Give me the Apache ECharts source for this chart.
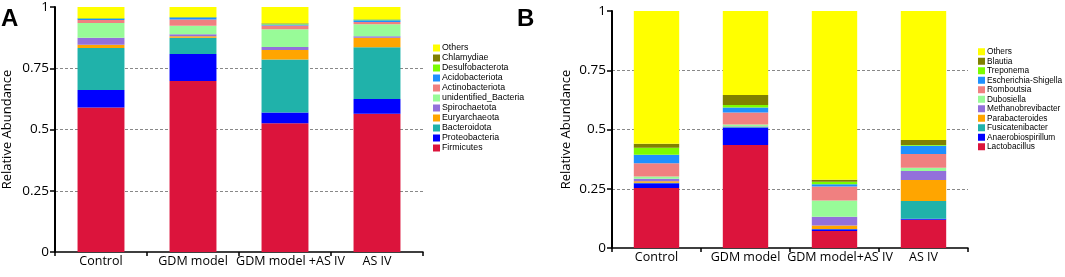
<!DOCTYPE html>
<html>
<head>
<meta charset="utf-8">
<script src="https://cdn.jsdelivr.net/npm/echarts@6/dist/echarts.min.js"></script>
<style>
  html, body { margin: 0; padding: 0; background: #fff; }
  #chart { width: 1065px; height: 277px; }
</style>
</head>
<body>
<div id="chart"></div>
<script>
// panel A: phylum level
const groupsA = ['Control', 'GDM model', 'GDM model +AS IV', 'AS IV']
const taxaA = ['Firmicutes', 'Proteobacteria', 'Bacteroidota', 'Euryarchaeota', 'Spirochaetota',
  'unidentified_Bacteria', 'Actinobacteriota', 'Acidobacteriota', 'Desulfobacterota', 'Chlamydiae', 'Others']
const firmicutes      = [0.590, 0.698, 0.526, 0.564]
const proteobacteria  = [0.071, 0.110, 0.043, 0.061]
const bacteroidota    = [0.172, 0.067, 0.217, 0.211]
const euryarchaeota   = [0.013, 0.006, 0.038, 0.039]
const spirochaetota   = [0.028, 0.008, 0.013, 0.006]
const unidentified    = [0.061, 0.034, 0.072, 0.049]
const actinobacteriota = [0.012, 0.026, 0.016, 0.009]
const acidobacteriota = [0.005, 0.008, 0.004, 0.007]
const desulfobacterota = [0.002, 0.001, 0.003, 0.003]
const chlamydiae      = [0.001, 0.001, 0.002, 0.001]
const othersA         = [0.045, 0.041, 0.066, 0.050]
const valuesA = [firmicutes, proteobacteria, bacteroidota, euryarchaeota, spirochaetota,
  unidentified, actinobacteriota, acidobacteriota, desulfobacterota, chlamydiae, othersA]

// panel B: genus level
const groupsB = ['Control', 'GDM model', 'GDM model+AS IV', 'AS IV']
const taxaB = ['Lactobacillus', 'Anaerobiospirillum', 'Fusicatenibacter', 'Parabacteroides', 'Methanobrevibacter',
  'Dubosiella', 'Romboutsia', 'Escherichia-Shigella', 'Treponema', 'Blautia', 'Others']
const lactobacillus   = [0.253, 0.435, 0.072, 0.119]
const anaerobio       = [0.020, 0.073, 0.007, 0.004]
const fusicatenibacter = [0.002, 0.003, 0.001, 0.075]
const parabacteroides = [0.007, 0.001, 0.015, 0.089]
const methanobrevi    = [0.010, 0.002, 0.037, 0.038]
const dubosiella      = [0.010, 0.007, 0.068, 0.014]
const romboutsia      = [0.056, 0.051, 0.059, 0.058]
const escherichia     = [0.035, 0.021, 0.010, 0.034]
const treponema       = [0.030, 0.010, 0.011, 0.004]
const blautia         = [0.017, 0.043, 0.008, 0.021]
const othersB         = [0.560, 0.354, 0.712, 0.544]
const valuesB = [lactobacillus, anaerobio, fusicatenibacter, parabacteroides, methanobrevi,
  dubosiella, romboutsia, escherichia, treponema, blautia, othersB]

const yTicks = [0, 0.25, 0.5, 0.75, 1]

// same palette for both panels, bottom -> top
const COLORS = ['#DC143C', '#0000FF', '#20B2AA', '#FFA500', '#9370DB',
  '#98FB98', '#F08080', '#1E90FF', '#7CFC00', '#808000', '#FFFF00']

const FONT = 'Open Sans'
const XFS = 12.5
const chart = echarts.init(document.getElementById('chart'), null, { renderer: 'canvas' })

function xAxis(idx, cats) {
  return {
    type: 'category', gridIndex: idx, data: cats,
    axisLine: { lineStyle: { color: '#000', width: 1.5 } },
    axisTick: { show: true, length: 4, lineStyle: { color: '#000', width: 1.5 } },
    axisLabel: {
      color: '#000', fontSize: XFS, fontFamily: FONT, margin: 3, interval: 0,
      // the long label sits a little right of its bar in the original
      formatter: v => v.includes('+') ? '{s|' + v + '}' : v,
      rich: { s: { color: '#000', fontSize: XFS, fontFamily: FONT, padding: [0, 0, 0, 11] } },
    },
  }
}

function yAxis(idx, gap) {
  return {
    type: 'value', gridIndex: idx, min: 0, max: 1, interval: 0.25,
    name: 'Relative Abundance', nameLocation: 'middle', nameGap: gap,
    nameTextStyle: { color: '#000', fontSize: 13, fontFamily: FONT },
    axisLine: { show: true, lineStyle: { color: '#000', width: 2 } },
    axisTick: { show: true, length: 5, lineStyle: { color: '#000', width: 1.5 } },
    axisLabel: { color: '#000', fontSize: 13.5, fontFamily: FONT, margin: 6,
      formatter: v => String(yTicks.find(t => Math.abs(t - v) < 1e-9) ?? v) },
    splitLine: { show: true, showMinLine: false, showMaxLine: false,
      lineStyle: { color: '#888', type: [3, 2], width: 1 } },
  }
}

function makeSeries(taxa, values, idx) {
  return taxa.map((name, i) => ({
    name, type: 'bar', stack: 'p' + idx,
    xAxisIndex: idx, yAxisIndex: idx,
    barWidth: '51%',
    itemStyle: { color: COLORS[i] },
    emphasis: { disabled: true },
    data: values[i],
  }))
}

function legend(taxa, left, top, lh, fs) {
  return {
    orient: 'vertical', left, top, padding: 0, itemGap: 0,
    itemWidth: 7, itemHeight: 7, icon: 'rect',
    selectedMode: false,
    data: [...taxa].reverse(),
    textStyle: { color: '#000', fontSize: fs, fontFamily: 'Liberation Sans', lineHeight: lh, padding: [0, 0, 0, -3] },
  }
}

chart.setOption({
  animation: false,
  backgroundColor: '#fff',
  title: [
    { text: 'A', left: 1, top: 7, padding: 0, textStyle: { fontSize: 24, fontWeight: 'bold', fontFamily: 'Liberation Sans', color: '#000' } },
    { text: 'B', left: 517, top: 7, padding: 0, textStyle: { fontSize: 24, fontWeight: 'bold', fontFamily: 'Liberation Sans', color: '#000' } },
  ],
  grid: [
    { left: 55, top: 6, width: 368, height: 246 },
    { left: 612, top: 11, width: 356, height: 237 },
  ],
  xAxis: [xAxis(0, groupsA), xAxis(1, groupsB)],
  yAxis: [yAxis(0, 41), yAxis(1, 39)],
  legend: [legend(taxaA, 433, 43, 10, 8.8), legend(taxaB, 978, 47, 9.5, 8.3)],
  series: [...makeSeries(taxaA, valuesA, 0), ...makeSeries(taxaB, valuesB, 1)],
})
window.addEventListener('resize', () => chart.resize())
</script>
</body>
</html>
